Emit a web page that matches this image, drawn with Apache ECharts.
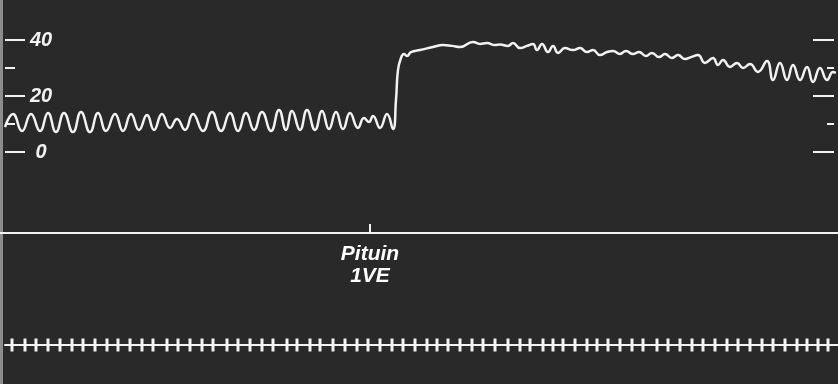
<!DOCTYPE html>
<html>
<head>
<meta charset="utf-8">
<script src="https://cdn.jsdelivr.net/npm/echarts@6/dist/echarts.min.js"></script>
<style>
html,body{margin:0;padding:0;background:#2a2a2a;}
#chart{width:838px;height:384px;}
</style>
</head>
<body>
<div id="chart"></div>
<script>
// Recording time (horizontal position along the kymograph) and pressure trace values
var traceTime = [5,13,22,31,40,48,56,64,73,81,90,98,106,115,123,131,139,147,154,162,170,177,185,193,203,212,221,230,238,246,254,262,271,279,286,292,300,307,315,322,329,336,343,350,358,364,369,373,380,387,393,
  396,398,401,404,407,411,420,433,443,452,460,473,480,487,495,500,508,513,520,527,533,537,542,548,553,558,565,573,580,587,593,600,607,613,620,
  626,633,639,646,652,659,665,672,678,685,691,698,705,713,718,723,730,737,743,750,758,767,773,780,787,793,800,807,813,820,827,833,836];
var traceValue = [8.9,13.6,7.5,13.6,7.5,13.9,7.1,13.9,7.1,14.3,7.1,13.9,7.5,13.6,7.5,13.6,7.9,13.2,7.9,13.6,8.6,11.8,7.9,13.6,7.5,14.3,7.5,13.9,7.5,13.9,7.9,14.3,7.5,15.0,7.9,14.6,7.9,15.0,7.9,14.6,8.2,14.3,8.2,13.9,8.6,12.1,10.7,12.9,8.6,13.6,8.2,
  18.6,29.3,33.6,35.0,34.3,35.7,36.4,37.5,38.2,37.9,37.5,39.3,38.6,38.9,38.2,38.4,37.9,38.9,37.1,37.9,38.6,36.4,38.6,35.7,37.9,35.4,37.1,36.4,37.1,35.7,36.4,34.6,35.7,36.1,35.0,
  36.1,35.0,35.7,34.3,35.4,33.9,35.0,33.6,34.6,33.2,33.9,34.6,31.8,33.6,31.1,32.9,30.4,31.8,30.0,31.4,28.6,32.5,25.7,31.8,25.7,31.1,25.7,30.4,25.0,30.0,25.7,28.6,28.2];
var yTickLabels = ['0','20','40'];
// Injection event
var eventTime = [370];
var eventLabel = ['Pituin', '1VE'];
// Time-marker ticks
var timeMarks = [12,25,36,48,60,72,83,95,107,118,130,142,153,167,178,190,202,213,227,238,250,262,273,
  287,297,310,320,333,345,357,368,380,392,403,415,427,437,448,460,472,483,495,508,520,530,543,553,
  563,575,587,597,608,620,632,643,657,668,680,692,703,715,727,738,750,762,773,785,797,807,818,828];

var W = '#f2f2f2';
var FONT = '"Liberation Sans", Arial, sans-serif';
var chart = echarts.init(document.getElementById('chart'), null, {renderer:'canvas'});
chart.setOption({
  backgroundColor: '#292929',
  animation: false,
  graphic: [{type:'rect', left:0, top:0, shape:{width:3, height:384}, style:{fill:'#8c8c8c'}}],
  grid: [
    {left:5, right:4, top:40, height:112},
    {left:0, right:0, top:220, height:26},
    {left:5, right:0, top:331, height:28}
  ],
  xAxis: [
    {gridIndex:0, type:'value', min:5, max:834, show:false},
    {gridIndex:1, type:'value', min:0, max:838, axisLine:{show:true, onZero:true, lineStyle:{color:W, width:2}}, axisTick:{show:false}, axisLabel:{show:false}, splitLine:{show:false}},
    {gridIndex:2, type:'value', min:5, max:838, axisLine:{show:true, onZero:true, lineStyle:{color:W, width:2}}, axisTick:{show:false}, axisLabel:{show:false}, splitLine:{show:false}}
  ],
  yAxis: [
    {gridIndex:0, type:'value', position:'left', min:0, max:40, interval:20,
      axisLine:{show:false},
      axisTick:{show:true, inside:true, length:20, lineStyle:{color:W, width:2}},
      minorTick:{show:true, splitNumber:2, length:10, lineStyle:{color:W, width:2}},
      splitLine:{show:false},
      axisLabel:{show:true, inside:true, margin:36, align:'center', color:W, fontSize:20, fontStyle:'italic', fontWeight:'bold', fontFamily:FONT,
        formatter:function(v){ return yTickLabels.indexOf(String(v))>=0 ? String(v) : ''; }}},
    {gridIndex:0, type:'value', position:'right', min:0, max:40, interval:20,
      axisLine:{show:false},
      axisTick:{show:true, inside:true, length:21, lineStyle:{color:W, width:2}},
      minorTick:{show:true, splitNumber:2, length:7, lineStyle:{color:W, width:2}},
      splitLine:{show:false}, axisLabel:{show:false}},
    {gridIndex:1, type:'value', min:-1, max:1, show:false},
    {gridIndex:2, type:'value', min:-1, max:1, show:false}
  ],
  series: [
    {type:'line', xAxisIndex:0, yAxisIndex:0, smooth:0.5, symbol:'none', clip:false,
      lineStyle:{color:W, width:2.5},
      data: traceTime.map(function(t,i){ return [t, traceValue[i]]; })},
    {type:'scatter', xAxisIndex:1, yAxisIndex:2, symbol:'rect', symbolSize:[2,9], symbolOffset:[0,-4.5],
      itemStyle:{color:W, opacity:1},
      label:{show:true, position:'bottom', distance:10, formatter:eventLabel.join('\n'), color:'#ffffff', opacity:1, fontSize:21, lineHeight:22, fontStyle:'italic', fontWeight:'bold', fontFamily:FONT, align:'center'},
      data: eventTime.map(function(t){ return [t, 0]; })},
    {type:'scatter', xAxisIndex:2, yAxisIndex:3, symbol:'rect', symbolSize:[3,13],
      itemStyle:{color:W, opacity:1},
      data: timeMarks.map(function(t){ return [t, 0]; })}
  ]
});
</script>
</body>
</html>
